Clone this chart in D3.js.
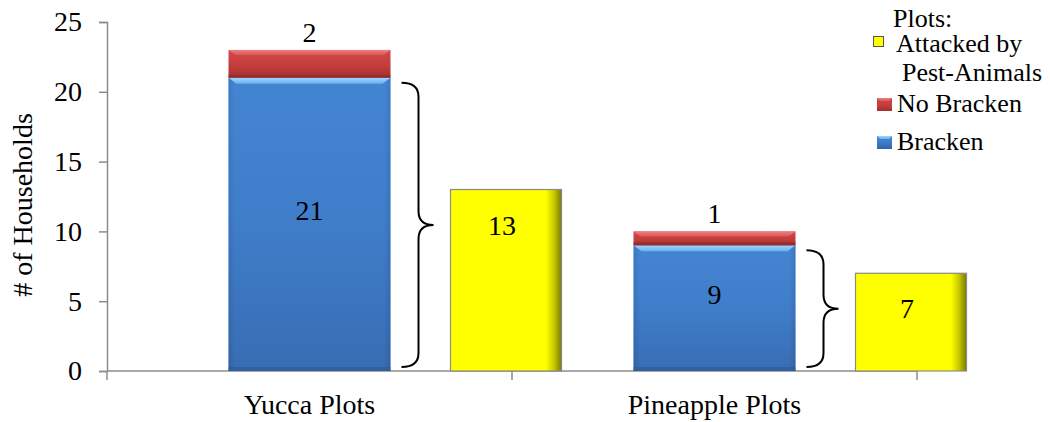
<!DOCTYPE html>
<html>
<head>
<meta charset="utf-8">
<script src="https://cdn.jsdelivr.net/npm/d3@7/dist/d3.min.js"></script>
</head>
<body style="margin:0">
<svg id="chart" width="1050" height="422"></svg>
<script>
// Households per crop type
const categories = ["Yucca Plots", "Pineapple Plots"];
const bracken = [21, 9];
const noBracken = [2, 1];
const attacked = [13, 7];
const yTicks = [0, 5, 10, 15, 20, 25];
const legendTitle = "Plots:";
const legendAttacked = ["Attacked by", "Pest-Animals"];
const legendNoBracken = "No Bracken";
const legendBracken = "Bracken";
const yTitle = "# of Households";

const FONT = '"Times New Roman"';
const svg = d3.select("#chart").style("font-family", FONT);
const defs = svg.append("defs");

// every label is a serif text of the given size
function label(parent, s, size) {
  return parent.append("text").style("font-family", FONT).attr("font-size", size).text(s);
}

// gradients
function linGrad(id, x1, y1, x2, y2, stops) {
  const g = defs.append("linearGradient").attr("id", id)
    .attr("x1", x1).attr("y1", y1).attr("x2", x2).attr("y2", y2);
  stops.forEach(s => g.append("stop").attr("offset", s[0]).attr("stop-color", s[1]));
}
linGrad("blueFill", 0, 0, 0, 1, [[0, "#4688d6"], [0.5, "#3f7cc8"], [1, "#3463a6"]]);
linGrad("blueSide", 0, 0, 1, 0, [[0, "#2f5d9c"], [0.04, "#4080cc"], [0.96, "#4080cc"], [1, "#2f5d9c"]]);
linGrad("redFill", 0, 0, 0, 1, [[0, "#d24a4a"], [0.6, "#c23c3c"], [1, "#9e3030"]]);
linGrad("yellowFill", 0, 0, 1, 0, [[0, "#ffff00"], [0.86, "#ffff00"], [0.93, "#caca00"], [1, "#7a7a00"]]);
linGrad("yellowShade", 0, 0, 0, 1, [[0, "#ffff00"], [0.9, "#ffff00"], [1, "#d8d800"]]);
linGrad("blueBevel", 0, 0, 0, 1, [[0, "#a0d4ff"], [1, "#6aaeef"]]);
linGrad("redBevel", 0, 0, 0, 1, [[0, "#f08080"], [1, "#d85858"]]);

const y = d3.scaleLinear().domain([0, 25]).range([371, 22]);
const x = d3.scaleBand().domain(categories).range([107, 917])
  .paddingInner(0.6).paddingOuter(0.3);
const bw = x.bandwidth();
const yellowGap = 60, yellowW = 111;

// axes
const axisColor = "#8c8c8c";
const yAxis = svg.append("g").attr("transform", "translate(107,0)")
  .call(d3.axisLeft(y).tickValues(yTicks).tickSize(8).tickPadding(17));
yAxis.attr("font-family", null).style("font-family", FONT);
yAxis.select(".domain").attr("stroke", axisColor).attr("stroke-width", 1.5);
yAxis.selectAll(".tick line").attr("stroke", axisColor).attr("stroke-width", 1.5);
yAxis.selectAll(".tick text").style("font-family", FONT).attr("font-size", 28).attr("fill", "#000");

const step = x.step();
const xEdges = [107, 107 + step, 917];
svg.append("line").attr("x1", 107).attr("x2", 917).attr("y1", y(0)).attr("y2", y(0))
  .attr("stroke", axisColor).attr("stroke-width", 1.5);
svg.selectAll("line.xtick").data(xEdges).enter().append("line").attr("class", "xtick")
  .attr("x1", d => d).attr("x2", d => d).attr("y1", y(0)).attr("y2", y(0) + 9)
  .attr("stroke", axisColor).attr("stroke-width", 1.5);

categories.forEach(c => {
  label(svg, c, 28).attr("x", x(c) + bw / 2).attr("y", 414).attr("text-anchor", "middle");
});

label(svg, yTitle, 28).attr("transform", "translate(32,205) rotate(-90)")
  .attr("text-anchor", "middle");

// stacked bars
categories.forEach((c, i) => {
  const x0 = x(c);
  const yb = y(bracken[i]);
  const yt = y(bracken[i] + noBracken[i]);
  const g = svg.append("g");
  // bracken segment
  g.append("rect").attr("x", x0).attr("y", yb).attr("width", bw).attr("height", y(0) - yb)
    .attr("fill", "url(#blueFill)");
  g.append("rect").attr("x", x0).attr("y", yb).attr("width", bw).attr("height", y(0) - yb)
    .attr("fill", "url(#blueSide)").attr("opacity", 0.35);
  g.append("path").attr("d", `M${x0},${yb} L${x0 + bw},${yb} L${x0 + bw - 8},${yb + 6} L${x0 + 8},${yb + 6} Z`)
    .attr("fill", "url(#blueBevel)");
  g.append("rect").attr("x", x0).attr("y", y(0) - 4).attr("width", bw).attr("height", 4)
    .attr("fill", "#2d5890").attr("opacity", 0.6);
  // no-bracken segment
  g.append("rect").attr("x", x0).attr("y", yt).attr("width", bw).attr("height", yb - yt)
    .attr("fill", "url(#redFill)");
  g.append("path").attr("d", `M${x0},${yt} L${x0 + bw},${yt} L${x0 + bw - 7},${yt + 5} L${x0 + 7},${yt + 5} Z`)
    .attr("fill", "url(#redBevel)");
  g.append("rect").attr("x", x0).attr("y", yb - 3).attr("width", bw).attr("height", 3)
    .attr("fill", "#8e2a2a").attr("opacity", 0.6);

  // value labels
  label(g, bracken[i], 28).attr("x", x0 + bw / 2).attr("y", (yb + y(0)) / 2 - 4)
    .attr("text-anchor", "middle");
  label(g, noBracken[i], 28).attr("x", x0 + bw / 2).attr("y", yt - 8)
    .attr("text-anchor", "middle");

  // brace spanning the bracken segment
  const bx = x0 + bw + 11, top = yb + 5, bot = y(0) - 4, mid = (top + bot) / 2;
  const v = bx + 17, tip = bx + 32, r = 14;
  g.append("path").attr("d",
    `M${bx},${top} Q${v},${top} ${v},${top + r} L${v},${mid - r} Q${v},${mid} ${tip},${mid} ` +
    `Q${v},${mid} ${v},${mid + r} L${v},${bot - r} Q${v},${bot} ${bx},${bot}`)
    .attr("fill", "none").attr("stroke", "#000").attr("stroke-width", 2);

  // attacked plots bar
  const ax = x0 + bw + yellowGap, ay = y(attacked[i]);
  g.append("rect").attr("x", ax).attr("y", ay).attr("width", yellowW).attr("height", y(0) - ay)
    .attr("fill", "url(#yellowShade)");
  g.append("rect").attr("x", ax).attr("y", ay).attr("width", yellowW).attr("height", y(0) - ay)
    .attr("fill", "url(#yellowFill)").attr("stroke", "#8a8a8a").attr("stroke-width", 1.2);
  label(g, attacked[i], 28).attr("x", ax + yellowW / 2 - 4).attr("y", ay + 45)
    .attr("text-anchor", "middle");
});

// legend
const lg = svg.append("g");
label(lg, legendTitle, 26).attr("x", 893).attr("y", 27);
lg.append("rect").attr("x", 873.5).attr("y", 36.5).attr("width", 10).attr("height", 10)
  .attr("fill", "#ffff00").attr("stroke", "#555").attr("stroke-width", 1);
label(lg, legendAttacked[0], 26).attr("x", 896).attr("y", 52);
label(lg, legendAttacked[1], 26).attr("x", 902).attr("y", 81);
lg.append("rect").attr("x", 877).attr("y", 98).attr("width", 15).attr("height", 13)
  .attr("fill", "url(#redFill)");
lg.append("path").attr("d", "M877,98 L892,98 L889,101 L880,101 Z").attr("fill", "url(#redBevel)");
label(lg, legendNoBracken, 26).attr("x", 897).attr("y", 112);
lg.append("rect").attr("x", 877).attr("y", 136).attr("width", 15).attr("height", 13)
  .attr("fill", "url(#blueFill)");
lg.append("path").attr("d", "M877,136 L892,136 L889,139 L880,139 Z").attr("fill", "url(#blueBevel)");
label(lg, legendBracken, 26).attr("x", 897).attr("y", 150);
</script>
</body>
</html>
